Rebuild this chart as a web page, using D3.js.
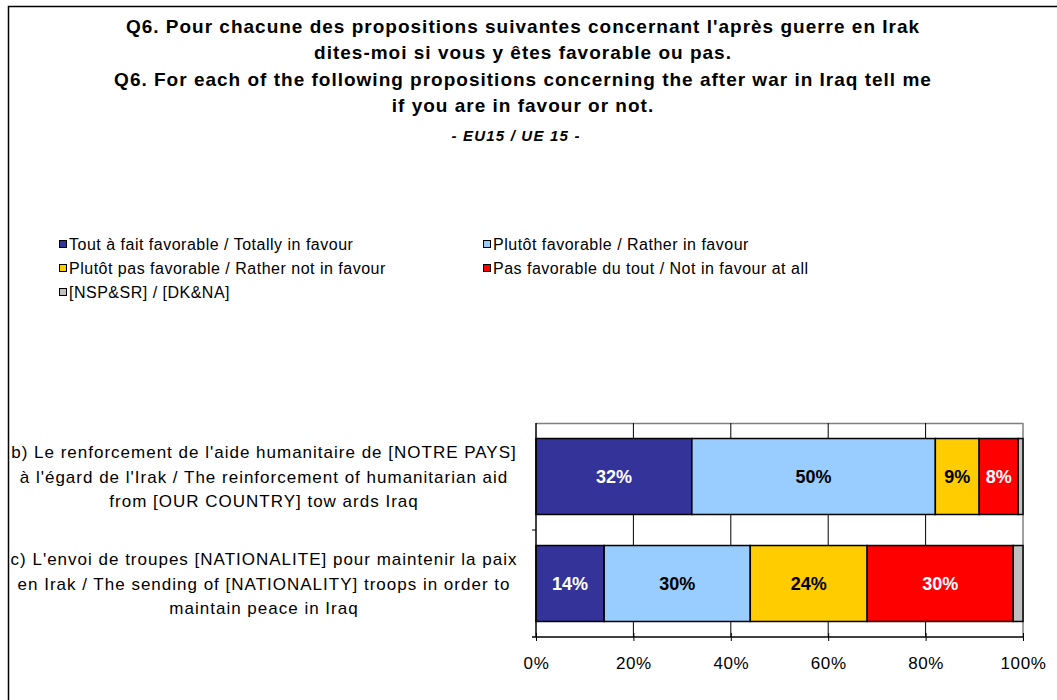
<!DOCTYPE html>
<html>
<head>
<meta charset="utf-8">
<script src="https://cdn.jsdelivr.net/npm/d3@7"></script>
<style>
  body { margin: 0; background: #fff; }
  svg text { font-family: "Liberation Sans", Arial, sans-serif; }
</style>
</head>
<body>
<div id="chart"></div>
<script>
var W = 1057, H = 700
var margin = { top: 423, right: 34, bottom: 63, left: 536 }
var w = 1023 - margin.left, h = 637 - margin.top

var titleLines = [
  "Q6. Pour chacune des propositions suivantes concernant l'après guerre en Irak",
  "dites-moi si vous y êtes favorable ou pas.",
  "Q6. For each of the following propositions concerning the after war in Iraq tell me",
  "if you are in favour or not."
]
var subtitle = "- EU15 / UE 15 -"

var series = [
  "Tout à fait favorable / Totally in favour",
  "Plutôt favorable / Rather in favour",
  "Plutôt pas favorable / Rather not in favour",
  "Pas favorable du tout / Not in favour at all",
  "[NSP&SR] / [DK&NA]"
]
var colors = ["#333399", "#99CCFF", "#FFCC00", "#FF0000", "#C0C0C0"]
var labelColors = ["#fff", "#000", "#000", "#fff", "#000"]

var categories = ["b", "c"]
var catLabels = [
  ["b) Le renforcement de l'aide humanitaire de [NOTRE PAYS]",
   "à l'égard de l'Irak / The reinforcement of humanitarian aid",
   "from [OUR COUNTRY] tow ards Iraq"],
  ["c) L'envoi de troupes [NATIONALITE] pour maintenir la paix",
   "en Irak / The sending of [NATIONALITY] troops in order to",
   "maintain peace in Iraq"]
]
var valuesB = [32, 50, 9, 8, 1]
var valuesC = [14, 30, 24, 30, 2]
var xTicks = [0, 20, 40, 60, 80, 100]

var svg = d3.select("#chart").append("svg")
    .attr("width", W).attr("height", H)

// frame
svg.append("rect")
    .attr("x", 8.5).attr("y", 6.5)
    .attr("width", W + 10).attr("height", H + 10)
    .attr("fill", "none").attr("stroke", "#000").attr("stroke-width", 1.5)

// titles
svg.selectAll("text.title")
    .data(titleLines)
    .enter()
    .append("text")
        .attr("class", "title")
        .attr("x", 523)
        .attr("y", function(d, i) { return 33 + i * 26.3 })
        .attr("text-anchor", "middle")
        .attr("font-size", "19px")
        .attr("letter-spacing", "1px")
        .attr("font-weight", "bold")
        .text(function(d) { return d })

svg.append("text")
    .attr("x", 516).attr("y", 141)
    .attr("text-anchor", "middle")
    .attr("font-size", "15px")
    .attr("letter-spacing", "1.2px")
    .attr("font-weight", "bold")
    .attr("font-style", "italic")
    .text(subtitle)

// legend
var legPos = [[59, 244], [483, 244], [59, 268], [483, 268], [59, 292]]
var leg = svg.selectAll("g.legend")
    .data(series)
    .enter()
    .append("g")
        .attr("class", "legend")
        .attr("transform", function(d, i) { return "translate(" + legPos[i][0] + "," + legPos[i][1] + ")" })
leg.append("rect")
    .attr("x", 0.5).attr("y", -3.5)
    .attr("width", 7).attr("height", 7)
    .attr("fill", function(d, i) { return colors[i] })
    .attr("stroke", "#000").attr("stroke-width", 1)
leg.append("text")
    .attr("x", 10).attr("y", 5.5)
    .attr("font-size", "16px")
    .attr("letter-spacing", "0.5px")
    .text(function(d) { return d })

// plot
var g = svg.append("g")
    .attr("transform", "translate(" + margin.left + "," + margin.top + ")")

var x = d3.scaleLinear().domain([0, 100]).range([0, w])
var y = d3.scaleBand().domain(categories).range([0, h]).paddingInner(0.29).paddingOuter(0.145)

// top and right borders of plot area
g.append("line").attr("x1", 0).attr("x2", w).attr("y1", 0.5).attr("y2", 0.5)
    .attr("stroke", "#808080").attr("stroke-width", 1.5)
g.append("line").attr("x1", w).attr("x2", w).attr("y1", 0).attr("y2", h)
    .attr("stroke", "#808080").attr("stroke-width", 1.5)

// gridlines
g.selectAll("line.grid")
    .data(xTicks.slice(1, -1))
    .enter()
    .append("line")
        .attr("class", "grid")
        .attr("x1", function(d) { return x(d) }).attr("x2", function(d) { return x(d) })
        .attr("y1", 0).attr("y2", h)
        .attr("stroke", "#000").attr("stroke-width", 1)

// bars
var data = [valuesB, valuesC]
data.forEach(function(vals, ci) {
    var cum = 0
    var segs = vals.map(function(v, si) {
        var s = { x0: cum, x1: cum + v, v: v, si: si }
        cum += v
        return s
    })
    var row = g.append("g")
    row.selectAll("rect")
        .data(segs)
        .enter()
        .append("rect")
            .attr("x", function(d) { return x(d.x0) })
            .attr("y", y(categories[ci]))
            .attr("width", function(d) { return x(d.x1) - x(d.x0) })
            .attr("height", y.bandwidth())
            .attr("fill", function(d) { return colors[d.si] })
            .attr("stroke", "#000").attr("stroke-width", 1.5)
    row.selectAll("text")
        .data(segs.filter(function(d) { return d.v >= 5 }))
        .enter()
        .append("text")
            .attr("x", function(d) { return x((d.x0 + d.x1) / 2) })
            .attr("y", y(categories[ci]) + y.bandwidth() / 2 + 6.5)
            .attr("text-anchor", "middle")
            .attr("font-size", "18px")
            .attr("font-weight", "bold")
            .attr("fill", function(d) { return labelColors[d.si] })
            .text(function(d) { return d.v + "%" })
})

// x axis
var xAxis = g.append("g")
    .attr("transform", "translate(0," + h + ")")
    .call(d3.axisBottom(x).tickValues(xTicks).tickSize(4).tickFormat(function(d) { return d + "%" }))
xAxis.select(".domain").attr("stroke", "#000").attr("stroke-width", 1.5)
    .attr("d", "M-4,0H" + w)
xAxis.selectAll(".tick line").attr("stroke", "#000").attr("y1", -4).attr("y2", 4)
xAxis.selectAll(".tick text")
    .attr("font-size", "17px")
    .attr("letter-spacing", "0.6px")
    .attr("font-family", "'Liberation Sans', Arial, sans-serif")
    .attr("fill", "#000")
    .attr("dy", 0).attr("y", 32)

// y axis
var yAxis = g.append("g")
    .call(d3.axisLeft(y).tickSize(0).tickFormat(""))
yAxis.select(".domain").attr("stroke", "#000").attr("stroke-width", 1.5)
    .attr("d", "M0,0V" + h)
g.append("line")
    .attr("x1", -4).attr("x2", 0)
    .attr("y1", (y("b") + y.bandwidth() + y("c")) / 2)
    .attr("y2", (y("b") + y.bandwidth() + y("c")) / 2)
    .attr("stroke", "#000")

// category labels
var catG = svg.selectAll("g.cat")
    .data(catLabels)
    .enter()
    .append("g")
        .attr("class", "cat")
catG.selectAll("text")
    .data(function(d, i) { return d.map(function(t, j) { return { t: t, j: j, ci: i } }) })
    .enter()
    .append("text")
        .attr("x", 264)
        .attr("y", function(d) {
            return margin.top + y(categories[d.ci]) + y.bandwidth() / 2 + (d.j - 1) * 24.5 + 6
        })
        .attr("text-anchor", "middle")
        .attr("font-size", "17px")
        .attr("letter-spacing", "1px")
        .text(function(d) { return d.t })
</script>
</body>
</html>
